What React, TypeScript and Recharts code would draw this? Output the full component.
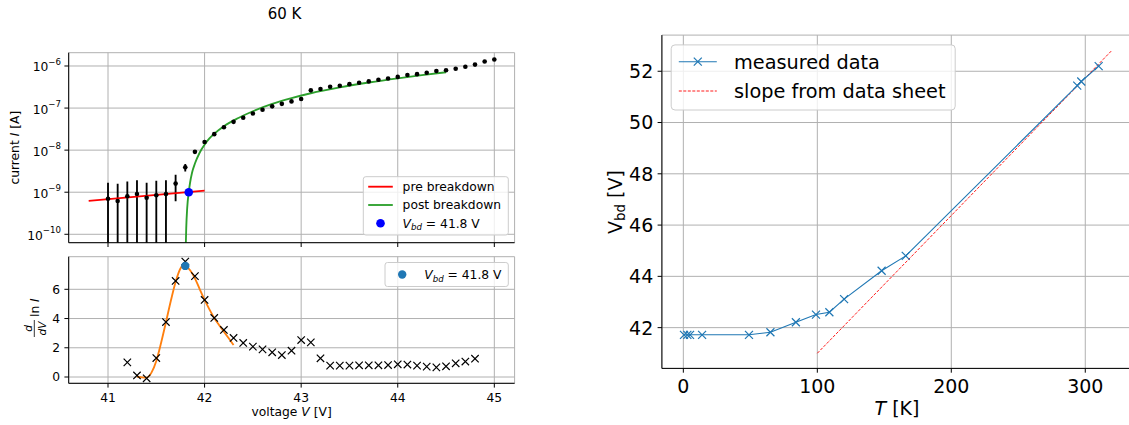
import React from 'react';
import { ComposedChart, Line, Scatter, XAxis, YAxis, CartesianGrid } from 'recharts';

const FONT = '"DejaVu Sans", sans-serif';

// ---------- Panel 1: I-V curve (log) ----------
const voltages = [41.0, 41.1, 41.2, 41.3, 41.4, 41.5, 41.6, 41.7, 41.8, 41.9, 42.0, 42.1, 42.2, 42.3, 42.4, 42.5, 42.6, 42.7, 42.8, 42.9, 43.0, 43.1, 43.2, 43.3, 43.4, 43.5, 43.6, 43.7, 43.8, 43.9, 44.0, 44.1, 44.2, 44.3, 44.4, 44.5, 44.6, 44.7, 44.8, 44.9, 45.0];
const currents = [7.0e-10, 6.2e-10, 8.0e-10, 9.1e-10, 7.4e-10, 8.5e-10, 9.1e-10, 1.6e-9, 3.9e-9, 9.1e-9, 1.56e-8, 2.4e-8, 3.5e-8, 4.7e-8, 5.9e-8, 7.4e-8, 9.1e-8, 1.1e-7, 1.26e-7, 1.44e-7, 1.64e-7, 2.64e-7, 2.85e-7, 3.2e-7, 3.4e-7, 3.7e-7, 4.0e-7, 4.3e-7, 4.7e-7, 5.06e-7, 5.5e-7, 6.1e-7, 6.4e-7, 6.9e-7, 7.6e-7, 7.9e-7, 8.6e-7, 9.6e-7, 1.08e-6, 1.28e-6, 1.43e-6];
const errVoltages = [41.0, 41.1, 41.2, 41.3, 41.4, 41.5, 41.6, 41.7, 41.8];
const errHigh = [1.69e-9, 1.6e-9, 1.79e-9, 1.93e-9, 1.69e-9, 1.86e-9, 1.93e-9, 2.6e-9, 4.7e-9];
const errLow = [1e-11, 1e-11, 1e-11, 1e-11, 1e-11, 1e-11, 1e-11, 6.1e-10, 3.1e-9];
const preV = [40.8, 42.0];
const preI = [6.2e-10, 1.09e-9];
const postV = [41.805, 41.81, 41.82, 41.836, 41.85, 41.87, 41.9, 41.95, 42.0, 42.05, 42.1, 42.2, 42.35, 42.5, 42.7, 42.9, 43.1, 43.4, 43.7, 44.0, 44.25, 44.5];
const postI = [5e-11, 1.4e-10, 4.2e-10, 1.0e-9, 1.7e-9, 2.9e-9, 4.8e-9, 8.8e-9, 1.35e-8, 1.9e-8, 2.45e-8, 3.7e-8, 5.8e-8, 8.4e-8, 1.25e-7, 1.72e-7, 2.25e-7, 3.1e-7, 4.05e-7, 5.1e-7, 6.05e-7, 7.1e-7];
const vbdPointV = [41.836];
const vbdPointI = [1.0e-9];
const currentTicks = [1e-10, 1e-9, 1e-8, 1e-7, 1e-6];
const voltageTicks = [41, 42, 43, 44, 45];

// ---------- Panel 2: derivative ----------
const derivV = [41.2, 41.3, 41.4, 41.5, 41.6, 41.7, 41.8, 41.9, 42.0, 42.1, 42.2, 42.3, 42.4, 42.5, 42.6, 42.7, 42.8, 42.9, 43.0, 43.1, 43.2, 43.3, 43.4, 43.5, 43.6, 43.7, 43.8, 43.9, 44.0, 44.1, 44.2, 44.3, 44.4, 44.5, 44.6, 44.7, 44.8];
const derivVal = [1.0, 0.11, -0.09, 1.3, 3.76, 6.57, 7.9, 6.9, 5.27, 4.04, 3.22, 2.67, 2.33, 2.08, 1.89, 1.69, 1.5, 1.8, 2.53, 2.37, 1.28, 0.78, 0.78, 0.78, 0.8, 0.8, 0.8, 0.82, 0.87, 0.85, 0.78, 0.71, 0.66, 0.73, 0.94, 1.06, 1.25];
const fitV = [41.3, 41.35, 41.4, 41.45, 41.5, 41.55, 41.6, 41.65, 41.7, 41.75, 41.78, 41.8, 41.85, 41.9, 41.95, 42.0, 42.05, 42.1, 42.15, 42.2, 42.25, 42.3];
const fitVal = [0.02, -0.02, -0.04, 0.3, 1.1, 2.35, 3.75, 5.2, 6.5, 7.42, 7.66, 7.62, 7.3, 6.75, 6.0, 5.27, 4.63, 4.04, 3.56, 3.1, 2.65, 2.19];
const peakV = [41.8];
const peakVal = [7.6];
const derivTicks = [0, 2, 4, 6];

// ---------- Panel 3: Vbd vs T ----------
const temps = [0.5, 3, 5, 14, 49, 65, 84, 99, 109, 120, 148, 166, 294, 297, 310];
const vbdValues = [41.72, 41.72, 41.72, 41.72, 41.72, 41.82, 42.21, 42.51, 42.6, 43.11, 44.22, 44.8, 51.44, 51.6, 52.2];
const sheetT = [100, 320];
const sheetV = [41.0, 52.82];
const tempTicks = [0, 100, 200, 300];
const vbdTicks = [42, 44, 46, 48, 50, 52];

// ---------- derived tables ----------
const dots = voltages.map((v, k) => ({ v, i: currents[k] }));
const errRows = errVoltages.map((v, k) => [{ v, i: errLow[k] }, { v, i: errHigh[k] }]);
const preRows = preV.map((v, k) => ({ v, i: preI[k] }));
const postRows = postV.map((v, k) => ({ v, i: postI[k] }));
const vbdRows = vbdPointV.map((v, k) => ({ v, i: vbdPointI[k] }));
const minorTicks: number[] = [];
for (let e = -11; e <= -6; e++) {
  for (let m = 2; m <= 9; m++) {
    const val = m * Math.pow(10, e);
    if (val > Math.pow(10, -10.2) && val < Math.pow(10, -5.684)) minorTicks.push(val);
  }
}
const derivRows = derivV.map((v, k) => ({ v, d: derivVal[k] }));
const fitRows = fitV.map((v, k) => ({ v, d: fitVal[k] }));
const peakRows = peakV.map((v, k) => ({ v, d: peakVal[k] }));
const measRows = temps.map((t, k) => ({ t, u: vbdValues[k] }));
const sheetRows = sheetT.map((t, k) => ({ t, u: sheetV[k] }));

const V_DOMAIN: [number, number] = [40.593, 45.21];
const I_DOMAIN: [number, number] = [Math.pow(10, -10.2), Math.pow(10, -5.684)];
const D_DOMAIN: [number, number] = [-0.43, 8.23];
const T_DOMAIN: [number, number] = [-16, 336];
const U_DOMAIN: [number, number] = [40.41, 53.41];

const EMPTY = () => <g />;
const GRID = '#b0b0b0';
const AX = { stroke: '#000', strokeWidth: 1 };

const xTick = (baseline: number, fs: number) => (p: any) => (
  <text x={p.x} y={baseline} textAnchor="middle" fontSize={fs} fill="#000" fontFamily={FONT}>
    {p.payload.value}
  </text>
);
const yTick = (xEnd: number, fs: number, dy: number) => (p: any) => (
  <text x={xEnd} y={p.y + dy} textAnchor="end" fontSize={fs} fill="#000" fontFamily={FONT}>
    {p.payload.value}
  </text>
);
const logTick = (p: any) => {
  const e = Math.round(Math.log10(p.payload.value));
  return (
    <text x={61} y={p.y + 5.5} textAnchor="end" fontSize={12.3} fill="#000" fontFamily={FONT}>
      10<tspan fontSize={8.6} dy={-6.5}>{'\u2212' + Math.abs(e)}</tspan>
    </text>
  );
};
const xMark = (s: number, color: string, sw: number) => (p: any) => {
  if (p.cx == null || p.cy == null) return <g />;
  return (
    <path
      d={`M${p.cx - s},${p.cy - s}L${p.cx + s},${p.cy + s}M${p.cx - s},${p.cy + s}L${p.cx + s},${p.cy - s}`}
      stroke={color}
      strokeWidth={sw}
      fill="none"
    />
  );
};
const circ = (r: number, color: string) => (p: any) => <circle cx={p.cx} cy={p.cy} r={r} fill={color} />;

function TopPanel() {
  return (
    <ComposedChart width={540} height={260} margin={{ top: 52.7, right: 25.4, bottom: 0, left: 0 }}>
      <CartesianGrid stroke={GRID} strokeWidth={1} />
      <XAxis dataKey="v" type="number" domain={V_DOMAIN} allowDataOverflow ticks={voltageTicks} height={17.3} interval={0}
        tickSize={4.3} tick={EMPTY} axisLine={AX} tickLine={AX} />
      <XAxis xAxisId="top" orientation="top" type="number" domain={V_DOMAIN} allowDataOverflow height={0}
        tick={false} tickLine={false} axisLine={AX} />
      <YAxis dataKey="i" type="number" scale="log" domain={I_DOMAIN} allowDataOverflow ticks={currentTicks} width={68.7} interval={0}
        tickSize={4.3} tick={logTick} axisLine={AX} tickLine={AX} />
      <YAxis yAxisId="minor" type="number" scale="log" domain={I_DOMAIN} allowDataOverflow ticks={minorTicks} width={0} interval={0}
        tickSize={2.5} tick={EMPTY} axisLine={false} tickLine={{ stroke: '#000', strokeWidth: 0.8 }} />
      <YAxis yAxisId="right" orientation="right" type="number" domain={[0, 1]} width={0}
        tick={false} tickLine={false} axisLine={AX} />
      {errRows.map((rows, k) => (
        <Line key={'e' + k} data={rows} dataKey="i" stroke="#000" strokeWidth={1.85} dot={false} isAnimationActive={false} />
      ))}
      <Scatter data={dots} dataKey="i" fill="#000" shape={circ(2.3, '#000')} isAnimationActive={false} />
      <Line data={preRows} dataKey="i" stroke="#ff0000" strokeWidth={1.85} dot={false} isAnimationActive={false} />
      <Line data={postRows} dataKey="i" type="monotone" stroke="#2ca02c" strokeWidth={1.85} dot={false} isAnimationActive={false} />
      <Scatter data={vbdRows} dataKey="i" fill="#0000ff" shape={circ(4.3, '#0000ff')} isAnimationActive={false} />
    </ComposedChart>
  );
}

function BottomPanel() {
  return (
    <ComposedChart width={540} height={175} margin={{ top: 6.7, right: 25.4, bottom: 0, left: 0 }}>
      <CartesianGrid stroke={GRID} strokeWidth={1} />
      <XAxis dataKey="v" type="number" domain={V_DOMAIN} allowDataOverflow ticks={voltageTicks} height={41.7} interval={0}
        tickSize={4.3} tick={xTick(151.5, 12.3)} axisLine={AX} tickLine={AX} />
      <XAxis xAxisId="top" orientation="top" type="number" domain={V_DOMAIN} allowDataOverflow height={0}
        tick={false} tickLine={false} axisLine={AX} />
      <YAxis dataKey="d" type="number" domain={D_DOMAIN} allowDataOverflow ticks={derivTicks} width={68.7} interval={0}
        tickSize={4.3} tick={yTick(60.1, 12.3, 4.4)} axisLine={AX} tickLine={AX} />
      <YAxis yAxisId="right" orientation="right" type="number" domain={[0, 1]} width={0}
        tick={false} tickLine={false} axisLine={AX} />
      <Scatter data={derivRows} dataKey="d" shape={xMark(3.7, '#000', 1.2)} isAnimationActive={false} />
      <Line data={fitRows} dataKey="d" type="monotone" stroke="#ff7f0e" strokeWidth={1.85} dot={false} isAnimationActive={false} />
      <Scatter data={peakRows} dataKey="d" shape={circ(4.2, '#1f77b4')} isAnimationActive={false} />
    </ComposedChart>
  );
}

function RightPanel() {
  return (
    <ComposedChart width={540} height={425} margin={{ top: 35.1, right: 6.5, bottom: 0, left: 0 }}>
      <CartesianGrid stroke={GRID} strokeWidth={1} />
      <XAxis dataKey="t" type="number" domain={T_DOMAIN} allowDataOverflow ticks={tempTicks} height={56.6} interval={0}
        tickSize={4.3} tick={xTick(392.6, 19)} axisLine={AX} tickLine={AX} />
      <XAxis xAxisId="top" orientation="top" type="number" domain={T_DOMAIN} allowDataOverflow height={0}
        tick={false} tickLine={false} axisLine={AX} />
      <YAxis dataKey="u" type="number" domain={U_DOMAIN} allowDataOverflow ticks={vbdTicks} width={61.9} interval={0}
        tickSize={4.3} tick={yTick(53.3, 19, 6.9)} axisLine={AX} tickLine={AX} />
      <YAxis yAxisId="right" orientation="right" type="number" domain={[0, 1]} width={0}
        tick={false} tickLine={false} axisLine={AX} />
      <Line data={sheetRows} dataKey="u" stroke="#ff0000" strokeWidth={0.9} strokeDasharray="3 1.5" dot={false} isAnimationActive={false} />
      <Line data={measRows} dataKey="u" stroke="#1f77b4" strokeWidth={1.1} dot={xMark(4, '#1f77b4', 1.2)} isAnimationActive={false} />
    </ComposedChart>
  );
}

function Overlay() {
  const t = { fontFamily: FONT, fill: '#000' } as const;
  return (
    <svg width={1129} height={425} style={{ position: 'absolute', left: 0, top: 0, pointerEvents: 'none' }}>
      <text x={284.5} y={19.3} textAnchor="middle" fontSize={15} {...t}>60 K</text>
      {/* top panel y label */}
      <text transform="translate(19,147.7) rotate(-90)" textAnchor="middle" fontSize={12.3} {...t}>
        current <tspan fontStyle="italic">I</tspan> [A]
      </text>
      {/* bottom panel y label: d/dV ln I */}
      <g transform="translate(38.5,320) rotate(-90)">
        <text x={-8.5} y={-6.6} textAnchor="middle" fontSize={10.5} fontStyle="italic" {...t}>d</text>
        <line x1={-17} x2={0} y1={-4.2} y2={-4.2} stroke="#000" strokeWidth={0.8} />
        <text x={-8.5} y={7.8} textAnchor="middle" fontSize={10.5} fontStyle="italic" {...t}>dV</text>
        <text x={3} y={0} fontSize={12.3} {...t} style={{ whiteSpace: 'pre' }}>
          ln <tspan fontStyle="italic">I</tspan>
        </text>
      </g>
      <text x={291.6} y={416} textAnchor="middle" fontSize={12.3} {...t}>
        voltage <tspan fontStyle="italic">V</tspan> [V]
      </text>

      {/* top legend */}
      <rect x={363.3} y={176.7} width={145} height={58.3} rx={2.5} fill="#fff" fillOpacity={0.8} stroke="#cccccc" strokeWidth={1} />
      <line x1={368.2} x2={392.8} y1={186.7} y2={186.7} stroke="#ff0000" strokeWidth={1.85} />
      <text x={402.6} y={191.1} fontSize={12.3} {...t}>pre breakdown</text>
      <line x1={368.2} x2={392.8} y1={205} y2={205} stroke="#2ca02c" strokeWidth={1.85} />
      <text x={402.6} y={209.4} fontSize={12.3} {...t}>post breakdown</text>
      <circle cx={380.5} cy={223.3} r={4.3} fill="#0000ff" />
      <text x={402.6} y={227.7} fontSize={12.3} {...t} style={{ whiteSpace: 'pre' }}>
        <tspan fontStyle="italic">V</tspan>
        <tspan fontStyle="italic" fontSize={8.6} dy={2.6}>bd</tspan>
        <tspan dy={-2.6}> = 41.8 V</tspan>
      </text>

      {/* bottom legend */}
      <rect x={385} y={262.5} width={123.3} height={24} rx={2.5} fill="#fff" fillOpacity={0.8} stroke="#cccccc" strokeWidth={1} />
      <circle cx={402.2} cy={274.5} r={4.2} fill="#1f77b4" />
      <text x={424.3} y={278.9} fontSize={12.3} {...t} style={{ whiteSpace: 'pre' }}>
        <tspan fontStyle="italic">V</tspan>
        <tspan fontStyle="italic" fontSize={8.6} dy={2.6}>bd</tspan>
        <tspan dy={-2.6}> = 41.8 V</tspan>
      </text>

      {/* right panel labels */}
      <text transform="translate(621.5,202) rotate(-90)" textAnchor="middle" fontSize={19} {...t} style={{ whiteSpace: 'pre' }}>
        V<tspan fontSize={13.3} dy={3}>bd</tspan><tspan dy={-3}> [V]</tspan>
      </text>
      <text x={897} y={415} textAnchor="middle" fontSize={19} {...t} style={{ whiteSpace: 'pre' }}>
        <tspan fontStyle="italic">T</tspan> [K]
      </text>

      {/* right legend */}
      <rect x={671.2} y={44.9} width={284} height={65.1} rx={3.8} fill="#fff" fillOpacity={0.8} stroke="#cccccc" strokeWidth={1} />
      <line x1={678.8} x2={716.8} y1={61.7} y2={61.7} stroke="#1f77b4" strokeWidth={1.1} />
      <path d="M693.8,57.7L701.8,65.7M693.8,65.7L701.8,57.7" stroke="#1f77b4" strokeWidth={1.2} />
      <text x={734} y={68.6} fontSize={19.3} {...t}>measured data</text>
      <line x1={678.8} x2={716.8} y1={91} y2={91} stroke="#ff0000" strokeWidth={0.9} strokeDasharray="3 1.5" />
      <text x={734} y={97.9} fontSize={19.3} {...t}>slope from data sheet</text>
    </svg>
  );
}

export default function App() {
  return (
    <div style={{ position: 'absolute', left: 0, top: 0, width: 1129, height: 425, overflow: 'hidden', background: '#fff', fontFamily: FONT }}>
      <div style={{ position: 'absolute', left: 0, top: 0 }}>
        <TopPanel />
      </div>
      <div style={{ position: 'absolute', left: 0, top: 250 }}>
        <BottomPanel />
      </div>
      <div style={{ position: 'absolute', left: 600, top: 0 }}>
        <RightPanel />
      </div>
      <Overlay />
    </div>
  );
}
